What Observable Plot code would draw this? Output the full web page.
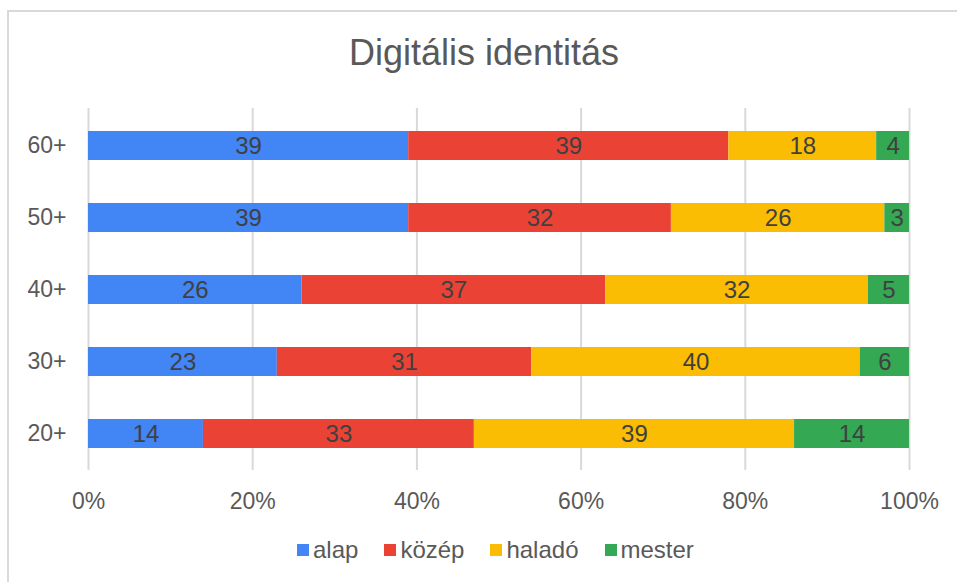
<!DOCTYPE html>
<html>
<head>
<meta charset="utf-8">
<script src="https://cdn.jsdelivr.net/npm/d3@7"></script>
<script src="https://cdn.jsdelivr.net/npm/@observablehq/plot@0.6"></script>
<style>
  html, body { margin: 0; padding: 0; background: #fff; overflow: hidden; width: 957px; height: 582px; }
  body { font-family: "Liberation Sans", Arial, sans-serif; position: relative; }
  #frame { position: absolute; left: 7px; top: 10px; width: 1200px; height: 1000px; border-left: 2px solid #d9d9d9; border-top: 2px solid #d9d9d9; }
  #title { position: absolute; left: 0; width: 968px; top: 32px; text-align: center; font-size: 36px; color: #595959; line-height: 42px; }
  #chart { position: absolute; left: 0; top: 80px; }
  #legend { position: absolute; left: 297px; top: 536px; display: flex; align-items: center; font-size: 24px; color: #595959; line-height: 28px; }
  .item { display: flex; align-items: center; margin-right: 26px; }
  .sw { width: 12px; height: 12px; margin-right: 4px; }
</style>
</head>
<body>
<div id="frame"></div>
<div id="title">Digitális identitás</div>
<div id="chart"></div>
<div id="legend"></div>
<script>
const ages = ["60+", "50+", "40+", "30+", "20+"];
const levels = ["alap", "közép", "haladó", "mester"];
const colors = ["#4285F4", "#EA4335", "#FBBC04", "#34A853"];
const alap   = [39, 39, 26, 23, 14];
const kozep  = [39, 32, 37, 31, 33];
const halado = [18, 26, 32, 40, 39];
const mester = [4, 3, 5, 6, 14];
const xTicks = [0, 20, 40, 60, 80, 100];

const series = [alap, kozep, halado, mester];
const data = [];
levels.forEach((lv, i) => {
  ages.forEach((a, j) => data.push({age: a, level: lv, value: series[i][j]}));
});

const plot = Plot.plot({
  width: 957,
  height: 440,
  marginLeft: 88,
  marginRight: 48,
  marginTop: 28,
  marginBottom: 50,
  style: {fontFamily: '"Liberation Sans", Arial, sans-serif', fontSize: "23px", color: "#595959", background: "transparent"},
  x: {domain: [0, 100], ticks: xTicks, tickFormat: d => d + "%", tickSize: 0, tickPadding: 22, label: null},
  y: {domain: ages, paddingInner: 0.6, paddingOuter: 0.3, tickSize: 0, tickPadding: 22, label: null},
  color: {domain: levels, range: colors},
  marks: [
    Plot.gridX(xTicks, {stroke: "#d9d9d9", strokeOpacity: 1, strokeWidth: 2}),
    Plot.barX(data, {x: "value", y: "age", fill: "level", z: "level", order: levels}),
    Plot.text(data, Plot.stackX({x: "value", y: "age", z: "level", order: levels, text: d => String(d.value), fill: "#404040", fontSize: 24}))
  ]
});
document.getElementById("chart").appendChild(plot);

const legend = document.getElementById("legend");
levels.forEach((lv, i) => {
  const it = document.createElement("div");
  it.className = "item";
  const sw = document.createElement("div");
  sw.className = "sw";
  sw.style.background = colors[i];
  const t = document.createElement("span");
  t.textContent = lv;
  it.appendChild(sw); it.appendChild(t);
  legend.appendChild(it);
});
</script>
</body>
</html>
